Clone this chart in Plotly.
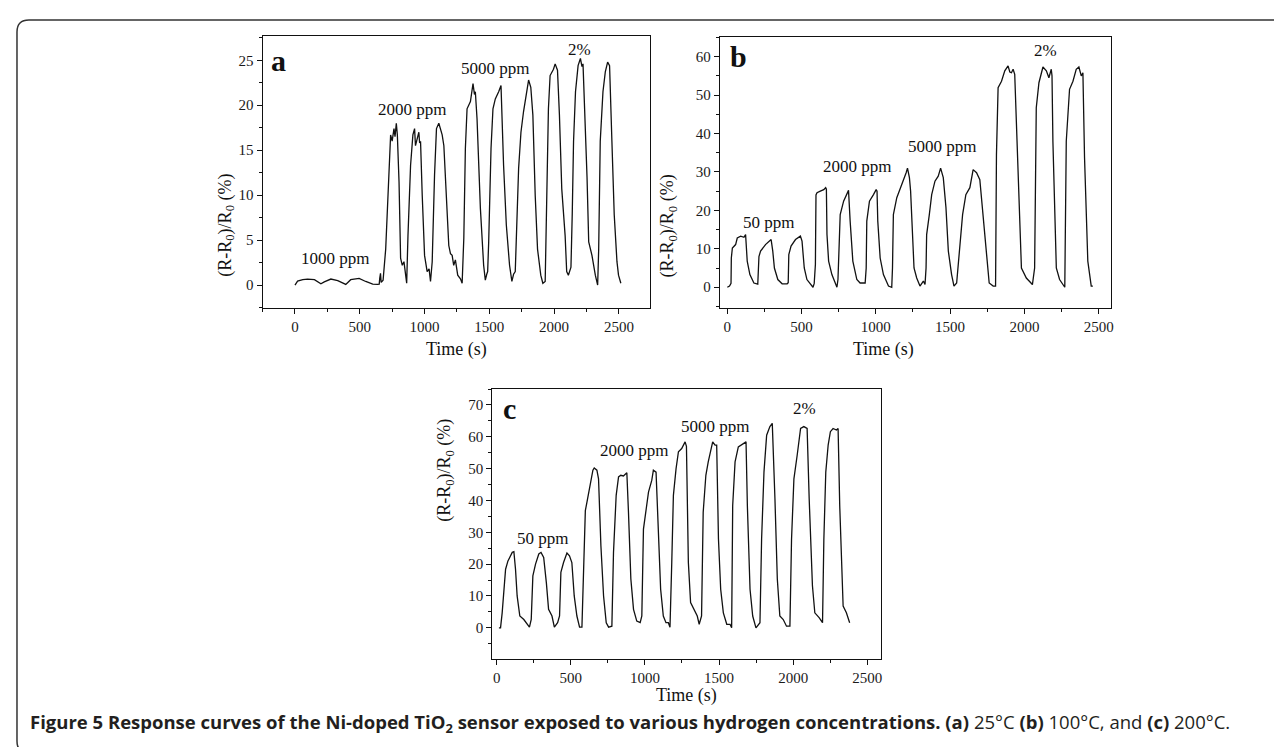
import plotly.graph_objects as go

# ---- data -----------------------------------------------------------------
time_a = [0, 20, 60, 97, 150, 200, 226, 277, 330, 392, 430, 495, 546, 600, 636, 650,
          654, 660, 665, 680, 700, 726, 738, 750, 764, 772, 782, 790, 803, 815, 828,
          841, 852, 862, 872, 892, 910, 923, 930, 938, 945, 956, 962, 969, 982, 1000,
          1020, 1035, 1046, 1059, 1077, 1092, 1110, 1125, 1136, 1149, 1169, 1187, 1200,
          1213, 1225, 1238, 1256, 1277, 1290, 1303, 1315, 1328, 1354, 1374, 1385, 1392,
          1405, 1431, 1456, 1469, 1480, 1487, 1495, 1513, 1528, 1546, 1572, 1590, 1610,
          1631, 1656, 1674, 1687, 1700, 1726, 1744, 1764, 1790, 1803, 1820, 1836, 1854,
          1872, 1897, 1913, 1931, 1944, 1956, 1969, 1995, 2008, 2026, 2041, 2059, 2085,
          2097, 2110, 2130, 2140, 2150, 2165, 2185, 2203, 2215, 2223, 2233, 2254, 2267,
          2292, 2318, 2336, 2344, 2356, 2377, 2395, 2413, 2428, 2446, 2464, 2485, 2497,
          2515]
resp_a = [0, 0.44, 0.6, 0.67, 0.6, 0.15, 0.35, 0.67, 0.5, 0.07, 0.6, 0.74, 0.4, 0.1, 0.07,
          0.1, 0.74, 1.3, 0.3, 0.55, 4, 13, 16.7, 16, 17.4, 16.5, 18, 16.7, 11.5, 3, 2.2,
          2.6, 1.2, 0.2, 5.5, 13.3, 16.7, 17.4, 15.5, 16, 16.5, 17, 15.8, 16, 10, 3.3,
          1.5, 1.8, 0.4, 2.6, 12.2, 17.4, 18, 17.2, 16.7, 15.5, 10, 4.4, 3.5,
          3.3, 2.2, 2.8, 1.1, 0.7, 0.2, 5.2, 15.2, 19.6, 20.4, 22.4, 21.2, 21.5,
          18.5, 8.5, 2.2, 0.55, 1.2, 1.5, 4.8, 15.2, 19.6, 20.7, 21.5, 22.2, 13.3,
          6.7, 2.2, 0.4, 1.2, 1.5, 13, 17, 19.3, 21.9, 22.8, 22, 18.9, 10,
          4, 1.1, 0.2, 0.4, 8.5, 19.6, 23.3, 24, 24.6, 23.9, 18.9, 10.7, 5.5,
          1.5, 1.1, 2.0, 8, 16, 21.5, 24.4, 25.2, 24.3, 24.6, 21, 12, 4.8,
          3.3, 1.1, 0, 4, 16, 21.5, 23.7, 24.8, 24.4, 16, 7.8, 2.6, 1.1,
          0.2]

time_b = [0, 15, 25, 27, 34, 56, 67, 90, 112, 123, 134, 152, 179, 201, 205, 213, 224, 257,
          280, 295, 306, 317, 340, 369, 403, 410, 414, 429, 459, 492, 503, 518, 536, 559,
          577, 585, 593, 597, 604, 626, 649, 662, 667, 671, 682, 704, 727, 738, 745, 749,
          760, 783, 805, 816, 827, 845, 872, 894, 928, 935, 939, 957, 984, 1002, 1008,
          1013, 1029, 1051, 1085, 1107, 1112, 1118, 1141, 1163, 1186, 1204, 1213, 1226,
          1234, 1242, 1257, 1275, 1297, 1320, 1331, 1338, 1342, 1360, 1376, 1398, 1420,
          1436, 1454, 1472, 1488, 1510, 1526, 1544, 1566, 1584, 1606, 1633, 1655, 1678,
          1700, 1718, 1740, 1763, 1790, 1806, 1812, 1823, 1846, 1868, 1890, 1902, 1913,
          1924, 1935, 1957, 1980, 2013, 2054, 2069, 2080, 2098, 2125, 2148, 2165, 2181,
          2186, 2192, 2215, 2237, 2259, 2272, 2282, 2304, 2327, 2349, 2367, 2383, 2394,
          2405, 2427, 2450, 2461]
resp_b = [0, 0.3, 1, 7.6, 10.2, 11.1, 12.8, 13.3, 13, 13.7, 6.8, 3.3, 1.1, 0.7, 0.8, 8,
          9.4, 11.1, 12, 12.4, 9.4, 5, 2, 0.9, 0.9, 1.2, 8.5, 10.7, 12.4, 13.3, 12, 5, 2,
          0.9, 0, 1, 5.9, 24, 24.6, 25, 25.4, 25.9, 25.5, 13.7, 6.8, 3.3, 1.1, 0, 2, 6.8,
          18.9, 22.4, 24.6, 25.2, 17.2, 6.8, 2, 1.1, 1.1, 5, 17.2, 22.4, 24.1, 25.4, 25,
          17.2, 7.6, 3.3, 0.3, 0, 5, 18.9, 23.3, 25.4, 27.6, 29.8, 31, 28.5,
          25, 16.3, 5, 2.4, 0.3, 1.6, 0.7, 5, 13.7, 18.9, 24.1, 27.6, 28.9,
          31, 28.5, 20.7, 9.4, 3.3, 0.3, 1.1, 12, 18.9, 24.1, 25.9, 30.6, 29.8,
          28, 20.7, 10.2, 1.1, 0.3, 0.3, 34.5, 51.9, 53.6, 56.3, 57.6, 56, 55.8,
          56.7, 55.4, 29.3, 5, 2.4, 0.7, 5, 46.7, 53.2, 57.3, 56.3, 54.5, 56.7,
          55, 38, 5, 2, 0.7, 0, 38, 51.5, 53.6, 56.7, 57.3, 55, 55.8,
          33.7, 6.8, 0.3, 0.3]

time_c = [15, 26, 37, 49, 60, 76, 94, 105, 116, 127, 138, 156, 183, 206, 221, 233, 244,
          262, 284, 299, 317, 335, 350, 373, 389, 411, 424, 433, 451, 474, 491, 507, 523,
          541, 559, 575, 586, 598, 613, 631, 649, 658, 676, 687, 703, 721, 739, 755, 777,
          788, 806, 822, 837, 855, 878, 889, 905, 923, 945, 968, 979, 990, 1008, 1024,
          1046, 1057, 1075, 1091, 1106, 1124, 1142, 1158, 1169, 1181, 1192, 1210, 1226,
          1248, 1271, 1280, 1293, 1308, 1330, 1353, 1366, 1382, 1393, 1411, 1427, 1439,
          1457, 1473, 1484, 1496, 1511, 1529, 1552, 1574, 1585, 1592, 1608, 1630, 1653,
          1668, 1682, 1691, 1709, 1727, 1749, 1776, 1787, 1803, 1821, 1843, 1859, 1877,
          1893, 1910, 1933, 1955, 1978, 1989, 2005, 2027, 2050, 2072, 2094, 2108, 2130,
          2146, 2175, 2198, 2207, 2220, 2236, 2251, 2269, 2292, 2303, 2314, 2325, 2337,
          2359, 2381]
resp_c = [0, 0, 4.7, 13.2, 18.4, 21, 22.6, 23.7, 23.9, 18.4, 10, 3.7, 2.6, 1.1, 0.2, 2.6,
          16.3, 20, 23.2, 23.7, 22.1, 14.2, 5.8, 3.7, 0.2, 1.6, 3.7, 17.4, 20.5, 23.5,
          22.6, 20.5, 10, 3.7, 0.2, 0.2, 20.5, 36.8, 40.5, 44.7, 49.5, 50.2, 49.5, 46.8,
          25.8, 10, 1.6, 0.2, 0.5, 23.7, 41.6, 47.4, 47.9, 47.7, 48.7, 36.3, 15.3, 5.8,
          2.1, 1.6, 3.7, 31, 37.4, 42.6, 46.3, 49.5, 48.9, 29, 12.1, 3.7, 1.6, 1.6, 0.2,
          20.5, 41.6, 50, 55.3, 56.3, 58.4, 57, 20.5, 7.9, 5.8, 3.7, 1.1, 3.7, 36.3,
          47.9, 52.1, 55, 58.4, 57.4, 57.4, 27.9, 12.1, 4.7, 1.1, 1.1, 0, 38.4, 52.1,
          56.8, 57.4, 57.9, 58.4, 38.4, 12.1, 3.7, 0, 1.6, 27.9, 48.9, 60.5, 63.2, 64.2,
          40.5, 15.3, 3.7, 2.6, 0.5, 0.5, 27.9, 46.8, 54.2, 62.6, 63.2, 62.6, 40.5,
          13.2, 4.7, 3.2, 1.6, 27.9, 48.9, 57.4, 61.6, 62.6, 62.1, 62.6, 38.4, 19.5,
          6.8, 4.7, 1.6]

# concentration labels: (text, time, response) per panel
labels_a = [("1000 ppm", 308, 3.0), ("2000 ppm", 900, 19.5),
            ("5000 ppm", 1546, 24.1), ("2%", 2195, 26.2)]
labels_b = [("50 ppm", 280, 16.8), ("2000 ppm", 872, 31.3),
            ("5000 ppm", 1443, 36.7), ("2%", 2143, 61.5)]
labels_c = [("50 ppm", 306, 28.1), ("2000 ppm", 923, 55.8),
            ("5000 ppm", 1470, 63.2), ("2%", 2079, 69.0)]

SERIF = "Liberation Serif, Times New Roman, serif"
INK = "#111111"
W, H = 1282, 747


def px(x):
    return x / W


def py(y):
    return 1 - y / H


fig = go.Figure()
for t, r, n in [(time_a, resp_a, ""), (time_b, resp_b, "2"), (time_c, resp_c, "3")]:
    fig.add_trace(go.Scatter(x=t, y=r, mode="lines", xaxis="x" + n, yaxis="y" + n,
                             line=dict(color=INK, width=1.3), hoverinfo="skip",
                             showlegend=False))

axis = dict(showline=True, mirror=True, linecolor=INK, linewidth=1.2,
            ticks="outside", ticklen=5, tickwidth=1, tickcolor=INK,
            showgrid=False, zeroline=False,
            tickfont=dict(family=SERIF, size=15, color="#1a1a1a"))

# plot-area boxes in pixels: (x0, x1, y0_top, y1_bottom)
boxes = {"": (255, 643, 28, 300), "2": (713, 1105, 29, 300), "3": (485, 874, 381, 651)}
xranges = {"": [-250, 2740], "2": [-50, 2585], "3": [-30, 2590]}
yranges = {"": [-2.55, 27.7], "2": [-5.4, 65.1], "3": [-9.8, 75]}
ydt = {"": 5, "2": 10, "3": 10}

lay = {}
for n, (x0, x1, yt, yb) in boxes.items():
    lay["xaxis" + n] = dict(axis, domain=[px(x0), px(x1)], range=xranges[n],
                            anchor="y" + n, tick0=0, dtick=500,
                            minor=dict(ticks="outside", ticklen=3, dtick=250,
                                       tick0=0, tickcolor=INK))
    lay["yaxis" + n] = dict(axis, domain=[py(yb), py(yt)], range=yranges[n],
                            anchor="x" + n, tick0=0, dtick=ydt[n],
                            minor=dict(ticks="outside", ticklen=3, dtick=ydt[n] / 2,
                                       tick0=0, tickcolor=INK))

ann = []
for n, labels, letter, lpos in [("", labels_a, "a", (-130, 25.0)),
                                ("2", labels_b, "b", (72, 60.0)),
                                ("3", labels_c, "c", (89, 69.0))]:
    for text, x, y in labels:
        ann.append(dict(text=text, x=x, y=y, xref="x" + n, yref="y" + n,
                        showarrow=False, font=dict(family=SERIF, size=17, color=INK)))
    ann.append(dict(text="<b>%s</b>" % letter, x=lpos[0], y=lpos[1],
                    xref="x" + n, yref="y" + n, showarrow=False,
                    font=dict(family=SERIF, size=30, color=INK)))

ytitle = "(R-R<sub>0</sub>)/R<sub>0</sub> (%)"
for x, y in [(205, 164), (662, 164), (438, 516)]:
    ann.append(dict(text=ytitle, x=px(x), y=py(y), xref="paper", yref="paper",
                    textangle=-90, showarrow=False,
                    font=dict(family=SERIF, size=18, color=INK)))
for x, y in [(449, 342), (909, 342), (680, 700)]:
    ann.append(dict(text="Time (s)", x=px(x), y=py(y), xref="paper", yref="paper",
                    showarrow=False, font=dict(family=SERIF, size=18, color=INK)))

caption = ("<b>Figure 5 Response curves of the Ni-doped TiO<sub>2</sub> sensor exposed to "
           "various hydrogen concentrations. (a)</b> 25°C <b>(b)</b> 100°C, and "
           "<b>(c)</b> 200°C.")
ann.append(dict(text=caption, x=px(20), y=py(731), xref="paper", yref="paper",
                xanchor="left", showarrow=False,
                font=dict(family="Open Sans, sans-serif", size=18.5, color="#231f20")))

# rounded frame around the figure (open on the right / bottom, as in the scan)
frame = ("M %f,%f L %f,%f Q %f,%f %f,%f L %f,%f Q %f,%f %f,%f"
         % (px(1290), py(12), px(21), py(12), px(9), py(12), px(9), py(24),
            px(9), py(733), px(9), py(745), px(21), py(745)))

fig.update_layout(
    width=W, height=H, margin=dict(l=0, r=0, t=0, b=0),
    paper_bgcolor="white", plot_bgcolor="white",
    annotations=ann,
    shapes=[dict(type="path", path=frame, xref="paper", yref="paper",
                 line=dict(color="#333333", width=1.5))],
    **lay,
)

fig.write_html("out.html")
